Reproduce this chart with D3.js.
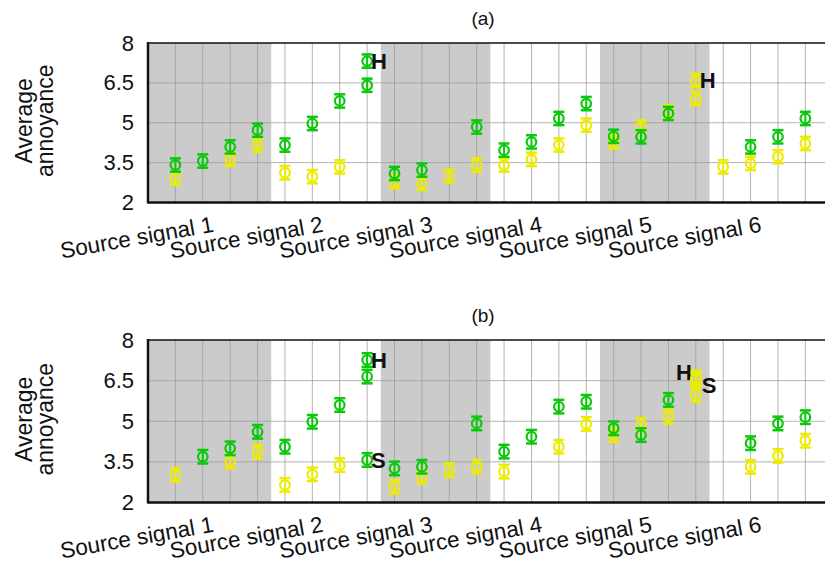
<!DOCTYPE html>
<html>
<head>
<meta charset="utf-8">
<script src="https://cdn.jsdelivr.net/npm/d3@7"></script>
<style>
  body { margin: 0; background: #fff; }
  text { font-family: "Liberation Sans", Arial, sans-serif; fill: #111; }
</style>
</head>
<body>
<div id="chart"></div>
<script>
// categories and ticks
var sourceLabels = ["Source signal 1", "Source signal 2", "Source signal 3",
                    "Source signal 4", "Source signal 5", "Source signal 6"];
var yTicks = [2, 3.5, 5, 6.5, 8];
var stimulus = [1, 2, 3, 4, 5, 6, 7, 8, 9, 10, 11, 12,
                13, 14, 15, 16, 17, 18, 19, 20, 21, 22, 23, 24];

// panel (a) averages (null = not visible)
var greenA  = [3.41, 3.56, 4.09, 4.72, 4.16, 4.97, 5.82, 6.41, 3.09, 3.22, null, 4.84,
               3.97, 4.28, 5.16, 5.72, 4.49, 4.47, 5.35, null, null, 4.09, 4.47, 5.16];
var yellowA = [2.92, null, 3.62, 4.16, 3.12, 2.97, 3.34, null, 2.78, 2.72, 2.99, 3.41,
               3.41, 3.62, 4.16, 4.91, 4.28, 4.84, 5.41, 5.91, 3.34, 3.47, 3.72, 4.22];
var markedA = [
  {stim: 8,  value: 7.32, series: "green",  label: "H"},
  {stim: 20, value: 6.59, series: "yellow", label: "H"}
];

// panel (b) averages
var greenB  = [null, 3.69, 4.00, 4.61, 4.06, 4.98, 5.60, 6.65, 3.26, 3.32, null, 4.92,
               3.88, 4.43, 5.54, 5.72, 4.74, 4.49, 5.79, null, null, 4.19, 4.92, 5.15];
var yellowB = [3.02, null, 3.51, 3.88, 2.65, 3.04, 3.38, null, 2.58, 2.95, 3.20, 3.32,
               3.14, null, 4.06, 4.90, 4.49, 4.86, 5.17, 5.97, null, 3.32, 3.72, 4.28];
var markedB = [
  {stim: 8,  value: 7.26, series: "green",  label: "H"},
  {stim: 8,  value: 3.57, series: "green",  label: "S"},
  {stim: 20, value: 6.62, series: "yellow", label: "H"},
  {stim: 20, value: 6.55, series: "yellow", label: "S"}
];

var errHalf = 0.25;

var w = 825, h = 584;
var colors = {green: "#0ac80a", yellow: "#ecec00"};

var svg = d3.select("#chart")
    .append("svg")
    .attr("width", w)
    .attr("height", h);

var xScale = d3.scaleLinear()
    .domain([0, 25])
    .range([148, 148 + 25 * 27.39]);

var panels = [
  {title: "(a)", top: 43, bottom: 202.5, green: greenA, yellow: yellowA, marked: markedA},
  {title: "(b)", top: 340, bottom: 502.5, green: greenB, yellow: yellowB, marked: markedB}
];

panels.forEach(function(p) {
    var yScale = d3.scaleLinear()
        .domain([2, 8])
        .range([p.bottom, p.top]);

    var g = svg.append("g");

    // shaded bands for source signals 1, 3, 5
    sourceLabels.forEach(function(s, k) {
        if (k % 2 == 1) return;
        var x0 = k == 0 ? 0 : k * 4 + 0.5;
        g.append("rect")
            .attr("x", xScale(x0))
            .attr("y", p.top)
            .attr("width", xScale(k * 4 + 4.5) - xScale(x0))
            .attr("height", p.bottom - p.top)
            .attr("fill", "#cbcbcb");
    });

    // grid
    g.selectAll(".vgrid")
        .data(stimulus)
        .enter()
        .append("line")
        .attr("x1", function(d) { return xScale(d); })
        .attr("x2", function(d) { return xScale(d); })
        .attr("y1", p.top)
        .attr("y2", p.bottom)
        .attr("stroke", "#9c9c9c")
        .attr("stroke-width", 1)
        .attr("opacity", 0.75);
    g.selectAll(".hgrid")
        .data(yTicks.slice(1, -1))
        .enter()
        .append("line")
        .attr("x1", xScale(0))
        .attr("x2", w)
        .attr("y1", function(d) { return yScale(d); })
        .attr("y2", function(d) { return yScale(d); })
        .attr("stroke", "#9c9c9c")
        .attr("stroke-width", 1)
        .attr("opacity", 0.75);

    // frame
    g.append("line")
        .attr("x1", xScale(0)).attr("x2", w)
        .attr("y1", p.top).attr("y2", p.top)
        .attr("stroke", "#111").attr("stroke-width", 1.5);
    g.append("line")
        .attr("x1", xScale(0)).attr("x2", w)
        .attr("y1", p.bottom).attr("y2", p.bottom)
        .attr("stroke", "#111").attr("stroke-width", 2.5);
    g.append("line")
        .attr("x1", xScale(0)).attr("x2", xScale(0))
        .attr("y1", p.top - 1).attr("y2", p.bottom + 1)
        .attr("stroke", "#111").attr("stroke-width", 2.5);

    // y tick labels
    var yAxis = d3.axisLeft(yScale)
        .tickValues(yTicks)
        .tickFormat(function(d) { return String(d); })
        .tickSize(0)
        .tickPadding(14);
    var ya = g.append("g")
        .attr("transform", "translate(" + xScale(0) + ",0)")
        .call(yAxis);
    ya.select(".domain").remove();
    ya.selectAll("text")
        .style("font-family", "Liberation Sans, Arial, sans-serif")
        .style("font-size", "22px")
        .attr("fill", "#111");

    // y label
    var cy = (p.top + p.bottom) / 2 - 2;
    g.append("text")
        .attr("transform", "translate(32," + cy + ") rotate(-90)")
        .attr("text-anchor", "middle")
        .style("font-size", "23px")
        .text("Average");
    g.append("text")
        .attr("transform", "translate(53," + cy + ") rotate(-90)")
        .attr("text-anchor", "middle")
        .style("font-size", "23px")
        .text("annoyance");

    // title
    g.append("text")
        .attr("x", 483)
        .attr("y", p.top - 18)
        .attr("text-anchor", "middle")
        .style("font-size", "19px")
        .text(p.title);

    // x category labels
    sourceLabels.forEach(function(s, k) {
        var cx = xScale(k * 4 + 2.5) - 2;
        g.append("text")
            .attr("transform", "translate(" + cx + "," + (p.bottom + 29) + ") rotate(-10)")
            .attr("text-anchor", "end")
            .style("font-size", "22.5px")
            .text(s);
    });

    // error-bar markers
    function drawMarker(sel, color) {
        sel.append("line")
            .attr("x1", 0).attr("x2", 0)
            .attr("y1", function(d) { return yScale(d.v - errHalf) - yScale(d.v); })
            .attr("y2", function(d) { return yScale(d.v + errHalf) - yScale(d.v); })
            .attr("stroke", color).attr("stroke-width", 2);
        [-1, 1].forEach(function(sgn) {
            sel.append("line")
                .attr("x1", -5.5).attr("x2", 5.5)
                .attr("y1", function(d) { return yScale(d.v + sgn * errHalf) - yScale(d.v); })
                .attr("y2", function(d) { return yScale(d.v + sgn * errHalf) - yScale(d.v); })
                .attr("stroke", color).attr("stroke-width", 2.5);
        });
        sel.append("circle")
            .attr("r", 4.8)
            .attr("fill", "none")
            .attr("stroke", color)
            .attr("stroke-width", 2.2);
    }

    ["yellow", "green"].forEach(function(series) {
        var pts = p[series].map(function(v, i) { return {s: stimulus[i], v: v}; })
            .filter(function(d) { return d.v != null; });
        var m = g.selectAll(".m-" + series)
            .data(pts)
            .enter()
            .append("g")
            .attr("transform", function(d) {
                return "translate(" + xScale(d.s) + "," + yScale(d.v) + ")";
            });
        drawMarker(m, colors[series]);
    });

    // marked (H / S) points
    var mk = p.marked.map(function(d) { return {s: d.stim, v: d.value, series: d.series, label: d.label}; });
    function paired(d) {
        return mk.filter(function(o) { return o.s == d.s && Math.abs(o.v - d.v) < 0.5; }).length > 1;
    }
    var mm = g.selectAll(".mk")
        .data(mk)
        .enter()
        .append("g")
        .attr("transform", function(d) {
            return "translate(" + xScale(d.s) + "," + yScale(d.v) + ")";
        });
    mm.each(function(d) {
        drawMarker(d3.select(this).datum(d), colors[d.series]);
    });
    mm.append("text")
        .attr("x", function(d) {
            if (paired(d) && d.label == "H") return -4;
            return paired(d) ? 6 : 4;
        })
        .attr("y", function(d) {
            if (paired(d)) return d.label == "H" ? 3 : 14;
            return 8;
        })
        .attr("text-anchor", function(d) {
            return (paired(d) && d.label == "H") ? "end" : "start";
        })
        .style("font-size", "22px")
        .style("font-weight", "bold")
        .attr("fill", "#000")
        .text(function(d) { return d.label; });
});
</script>
</body>
</html>
